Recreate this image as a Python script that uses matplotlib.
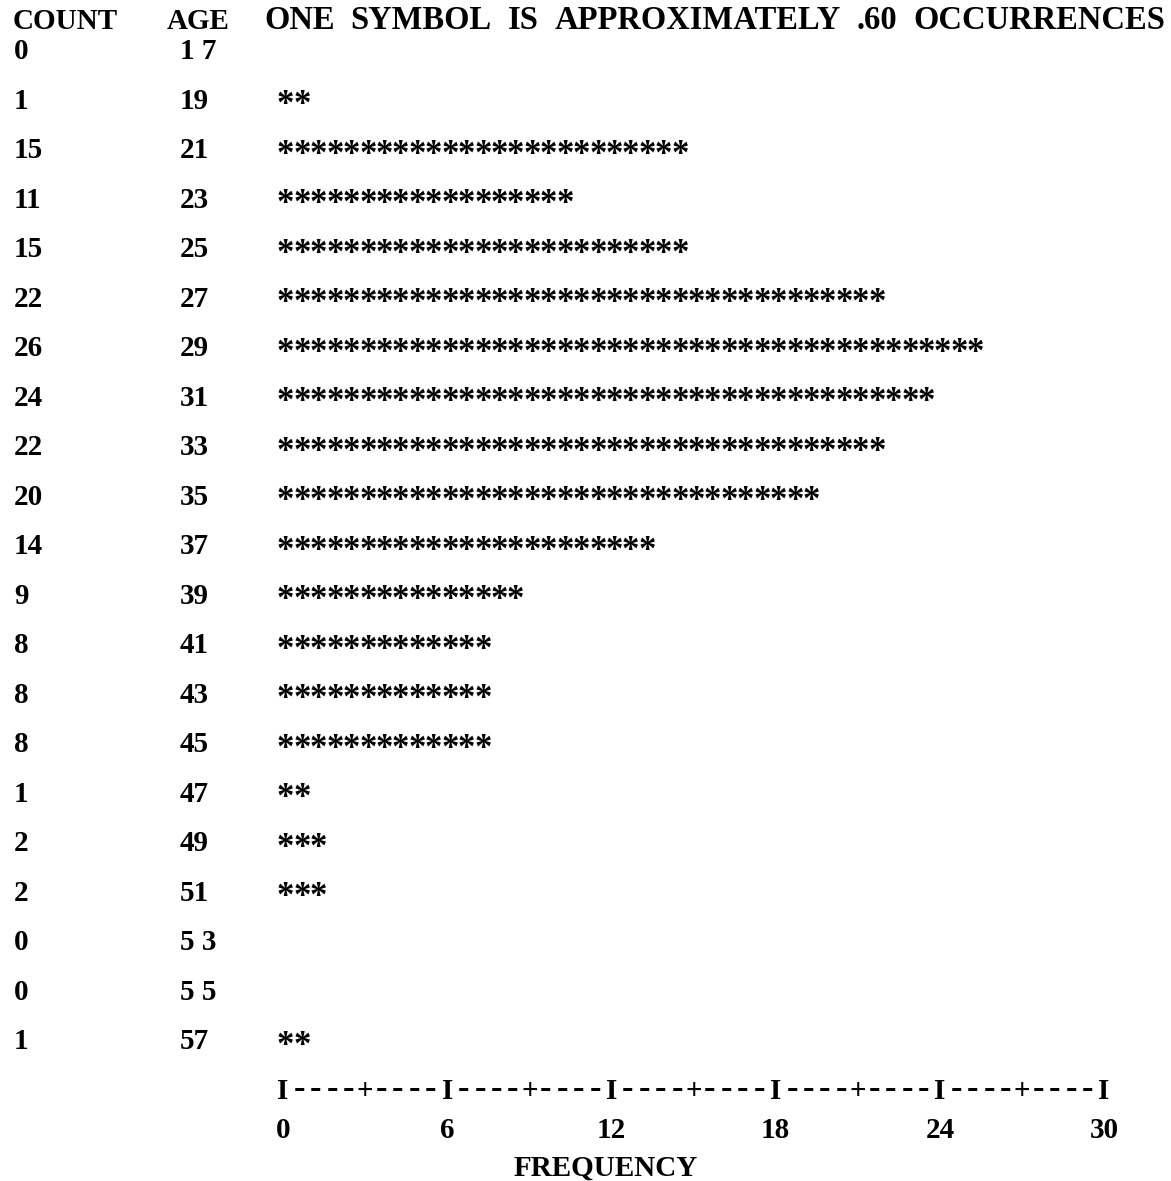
import matplotlib
matplotlib.use("Agg")
import matplotlib.pyplot as plt
from matplotlib.transforms import blended_transform_factory

# ---- data ----
counts = [0, 1, 15, 11, 15, 22, 26, 24, 22, 20, 14, 9, 8, 8, 8, 1, 2, 2, 0, 0, 1]
age_labels = ["1 7", "19", "21", "23", "25", "27", "29", "31", "33", "35", "37",
              "39", "41", "43", "45", "47", "49", "51", "5 3", "5 5", "57"]
symbol_value = 0.60          # one symbol ~ .60 occurrences
freq_ticks = [0, 6, 12, 18, 24, 30]
minor_step = 3
header_words = ["ONE", "SYMBOL", "IS", "APPROXIMATELY", ".60", "OCCURRENCES"]

FONT = ["Liberation Serif", "DejaVu Serif"]
FS = 21
W, H = 1171, 1181

fig = plt.figure(figsize=(W / 100, H / 100), dpi=100)
ax = fig.add_axes([0, 0, 1, 1])
ax.axis("off")

# x: frequency units, y: row index (inverted)
x0_px, px_per_unit = 283.0, 27.37
row0_px, row_px = 50.0, 49.5
ax.set_xlim(-x0_px / px_per_unit, (W - x0_px) / px_per_unit)
ax.set_ylim((H - row0_px) / row_px, -row0_px / row_px)

def ypx(p):
    return (p - row0_px) / row_px

tr = blended_transform_factory(ax.transAxes, ax.transData)
base = 0.19  # baseline offset below row centre (row units)

kw = dict(family=FONT, fontweight="bold", fontsize=FS, color="black")

# header
hy = ypx(20) + base
ax.text(13 / W, hy, "COUNT", transform=tr, ha="left", va="baseline", **kw)
ax.text(167 / W, hy, "AGE", transform=tr, ha="left", va="baseline", **kw)

# spread header words between left and right limits
hkw = dict(kw)
hkw["fontsize"] = 23.5
word_texts = [ax.text(0, hy, w, transform=tr, ha="left", va="baseline", **hkw)
              for w in header_words]
fig.canvas.draw()
rend = fig.canvas.get_renderer()
widths = [t.get_window_extent(rend).width for t in word_texts]
left_px, right_px = 264.0, 1165.0
gap = (right_px - left_px - sum(widths)) / (len(widths) - 1)
xcur = left_px
for t, wdt in zip(word_texts, widths):
    t.set_x(xcur / W)
    xcur += wdt + gap

# rows
for r, (c, a) in enumerate(zip(counts, age_labels)):
    ax.text(14 / W, r + base, str(c), transform=tr, ha="left", va="baseline", **kw)
    ax.text(180 / W, r + base, a, transform=tr, ha="left", va="baseline", **kw)
    n = int(round(c / symbol_value))
    for i in range(n):
        ax.text(symbol_value * i + 0.1, r + 0.30, "*", ha="center", va="baseline",
                family=FONT, fontweight="bold", fontsize=25, color="black")

# frequency axis made of characters
axis_y = ypx(1090) + base
step = symbol_value
nslots = int(round(freq_ticks[-1] / step))
major_slots = int(round((freq_ticks[1] - freq_ticks[0]) / step))
minor_slots = int(round(minor_step / step))
for k in range(nslots + 1):
    if k % major_slots == 0:
        ax.text(k * step, axis_y, "I", ha="center", va="baseline", **kw)
    elif k % minor_slots == 0:
        ax.text(k * step, axis_y, "+", ha="center", va="baseline", **kw)
    else:
        ax.text(k * step, axis_y - 0.02, "-", ha="center", va="baseline",
                family=FONT, fontweight="bold", fontsize=25, color="black")

lab_y = ypx(1129) + base
for t in freq_ticks:
    ax.text(t, lab_y, str(t), ha="center", va="baseline", **kw)

ax.text(11.8, ypx(1166) + base, "FREQUENCY", ha="center", va="baseline", **kw)

fig.savefig("out.png", dpi=100, facecolor="white")
